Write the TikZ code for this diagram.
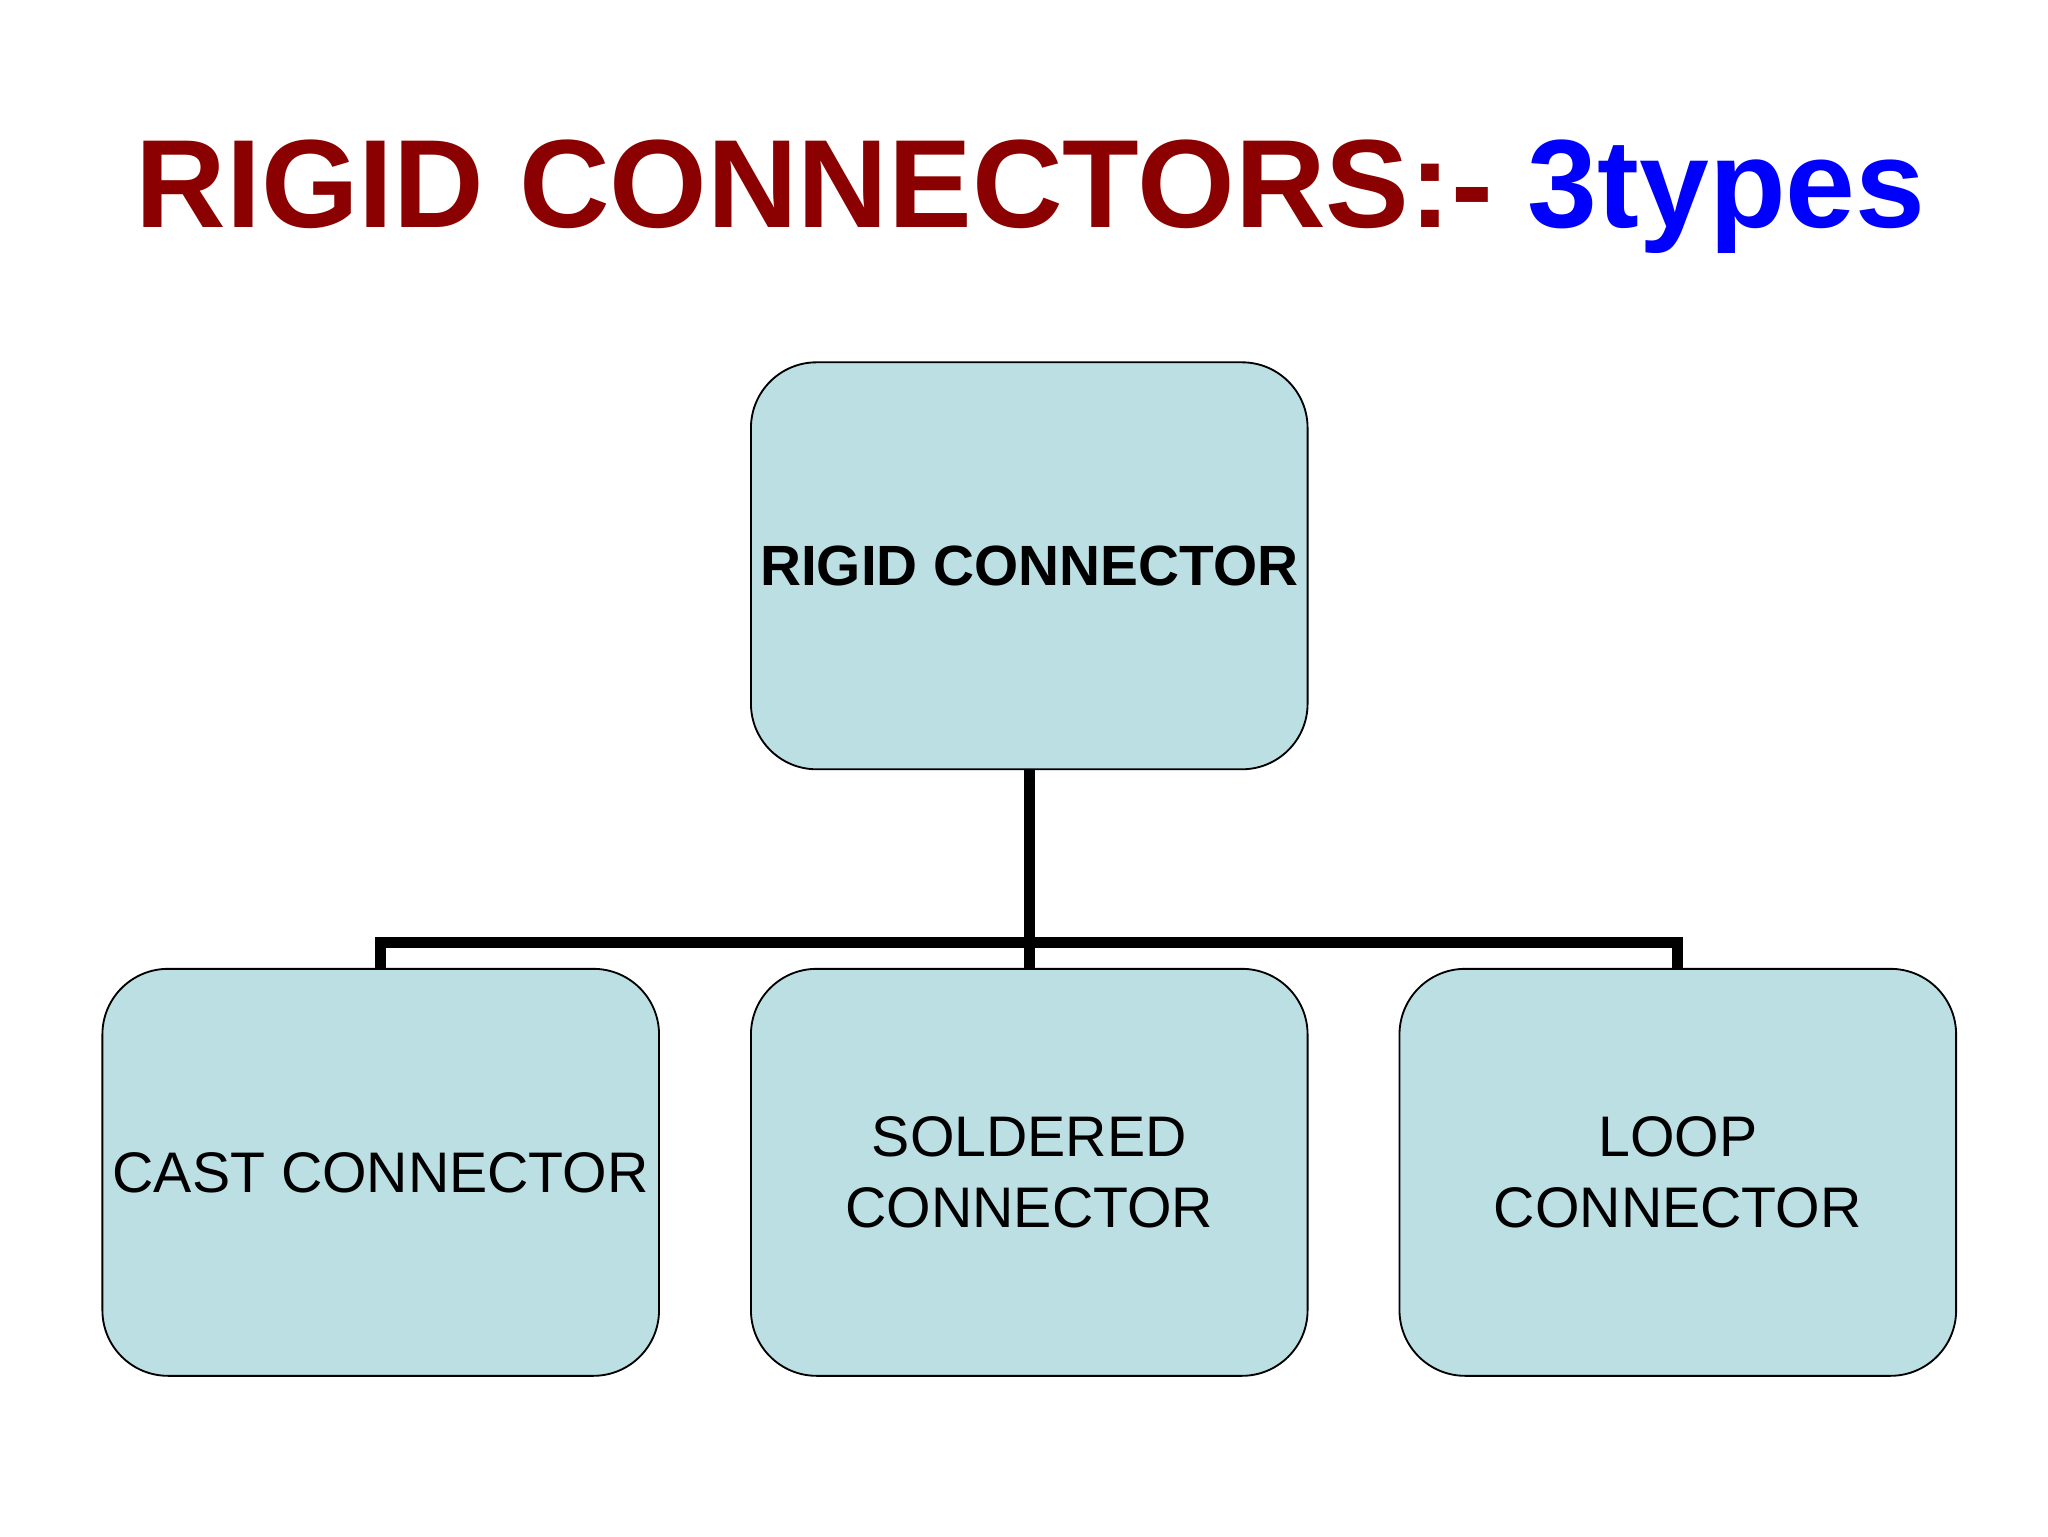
\documentclass[tikz,border=0pt]{standalone}
\usepackage{fontspec}
\setmainfont{Liberation Sans}
\usetikzlibrary{positioning}
\definecolor{boxfill}{HTML}{BBDFE3}
\definecolor{titlered}{HTML}{8B0000}
\begin{document}
\begin{tikzpicture}[line join=bevel]
  \tikzstyle{box}=[draw=black,fill=boxfill,rounded corners=0.5cm,minimum width=4.24cm,minimum height=3.1cm,align=center,font=\fontsize{12.4}{15.5}\selectfont,inner sep=2pt]
  \tikzstyle{branch}=[line width=2.4pt,line join=miter]
  \useasboundingbox (0,0) rectangle (15.6,11.7);
  \node[font=\fontsize{27.2}{32}\selectfont\bfseries] (title) at (7.85,10.2) {\textcolor{titlered}{RIGID CONNECTORS:-} \textcolor{blue}{3types}};
  \node[box,font=\fontsize{12.3}{15.5}\selectfont\bfseries] (R) at (7.84,7.39) {RIGID CONNECTOR};
  \node[box] (C) at (2.9,2.77) {CAST CONNECTOR};
  \node[box] (S) at (7.84,2.77) {SOLDERED\\CONNECTOR};
  \node[box] (L) at (12.78,2.77) {LOOP\\CONNECTOR};
  \coordinate (J) at (7.84,4.52);
  \draw[branch] (R.south) -- (J);
  \draw[branch] (C.north) -- (C.north |- J) -- (L.north |- J) -- (L.north);
  \draw[branch] (J) -- (S.north);
\end{tikzpicture}
\end{document}
